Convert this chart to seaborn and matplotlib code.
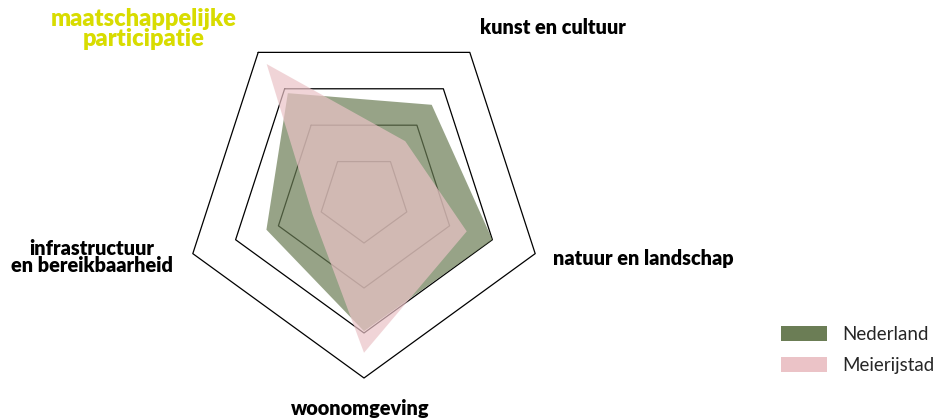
import numpy as np
import matplotlib
matplotlib.use("Agg")
import matplotlib.pyplot as plt
from matplotlib.patches import Patch
import seaborn as sns

categories = ["maatschappelijke\nparticipatie", "kunst en cultuur", "natuur en landschap",
              "woonomgeving", "infrastructuur\nen bereikbaarheid"]
nederland = [0.72, 0.64, 0.75, 0.74, 0.57]
meierijstad = [0.92, 0.39, 0.60, 0.86, 0.30]
ring_levels = [0.25, 0.5, 0.75, 1.0]
series_names = ["Nederland", "Meierijstad"]
series_colors = ["#6b7d55", "#ebc3c7"]

sns.set_theme(style="white")
plt.rcParams["font.family"] = ["Lato", "DejaVu Sans"]

W, H = 943, 419
fig = plt.figure(figsize=(W / 100, H / 100), dpi=100)
cx, cy, R = 364, 198, 180
ax = fig.add_axes([(cx - R) / W, (H - cy - R) / H, 2 * R / W, 2 * R / H], projection="polar")
ax.set_theta_direction(-1)
ax.set_theta_offset(np.deg2rad(126))
ax.set_ylim(0, 1)
ax.grid(False)
ax.spines["polar"].set_visible(False)
ax.set_xticks([])
ax.set_yticks([])
ax.patch.set_alpha(0)

n = len(categories)
theta = np.arange(n) * 2 * np.pi / n
theta_c = np.append(theta, theta[0])

for lv in ring_levels:
    ax.plot(theta_c, [lv] * (n + 1), color="black", lw=0.9, clip_on=False, zorder=1)

for vals, col in zip([nederland, meierijstad], series_colors):
    v = np.append(vals, vals[0])
    ax.fill(theta_c, v, color=col, alpha=0.7, lw=0, zorder=2, clip_on=False)

def px(x, y):
    return x / W, 1 - y / H

lab_kw = dict(fontsize=14.3, fontweight="heavy", ha="center", va="center", linespacing=0.9)
fig.text(*px(144, 29), categories[0], color="#d8dc00", fontsize=17, fontweight="heavy",
         ha="center", va="center", linespacing=0.9)
fig.text(*px(553, 28), categories[1], color="black", **lab_kw)
fig.text(*px(553, 258), categories[2], color="black", fontsize=14.3, fontweight="heavy",
         ha="left", va="center")
fig.text(*px(360, 408), categories[3], color="black", **lab_kw)
fig.text(*px(92, 257), categories[4], color="black", **lab_kw)

handles = [Patch(facecolor=c, edgecolor="none") for c in series_colors]
fig.legend(handles, series_names, loc="upper left", bbox_to_anchor=px(777, 322),
           frameon=False, fontsize=13.5, handlelength=2.45, handleheight=0.85,
           handletextpad=0.85, labelspacing=0.78, borderpad=0.2, borderaxespad=0)

fig.savefig("out.png", dpi=100)
